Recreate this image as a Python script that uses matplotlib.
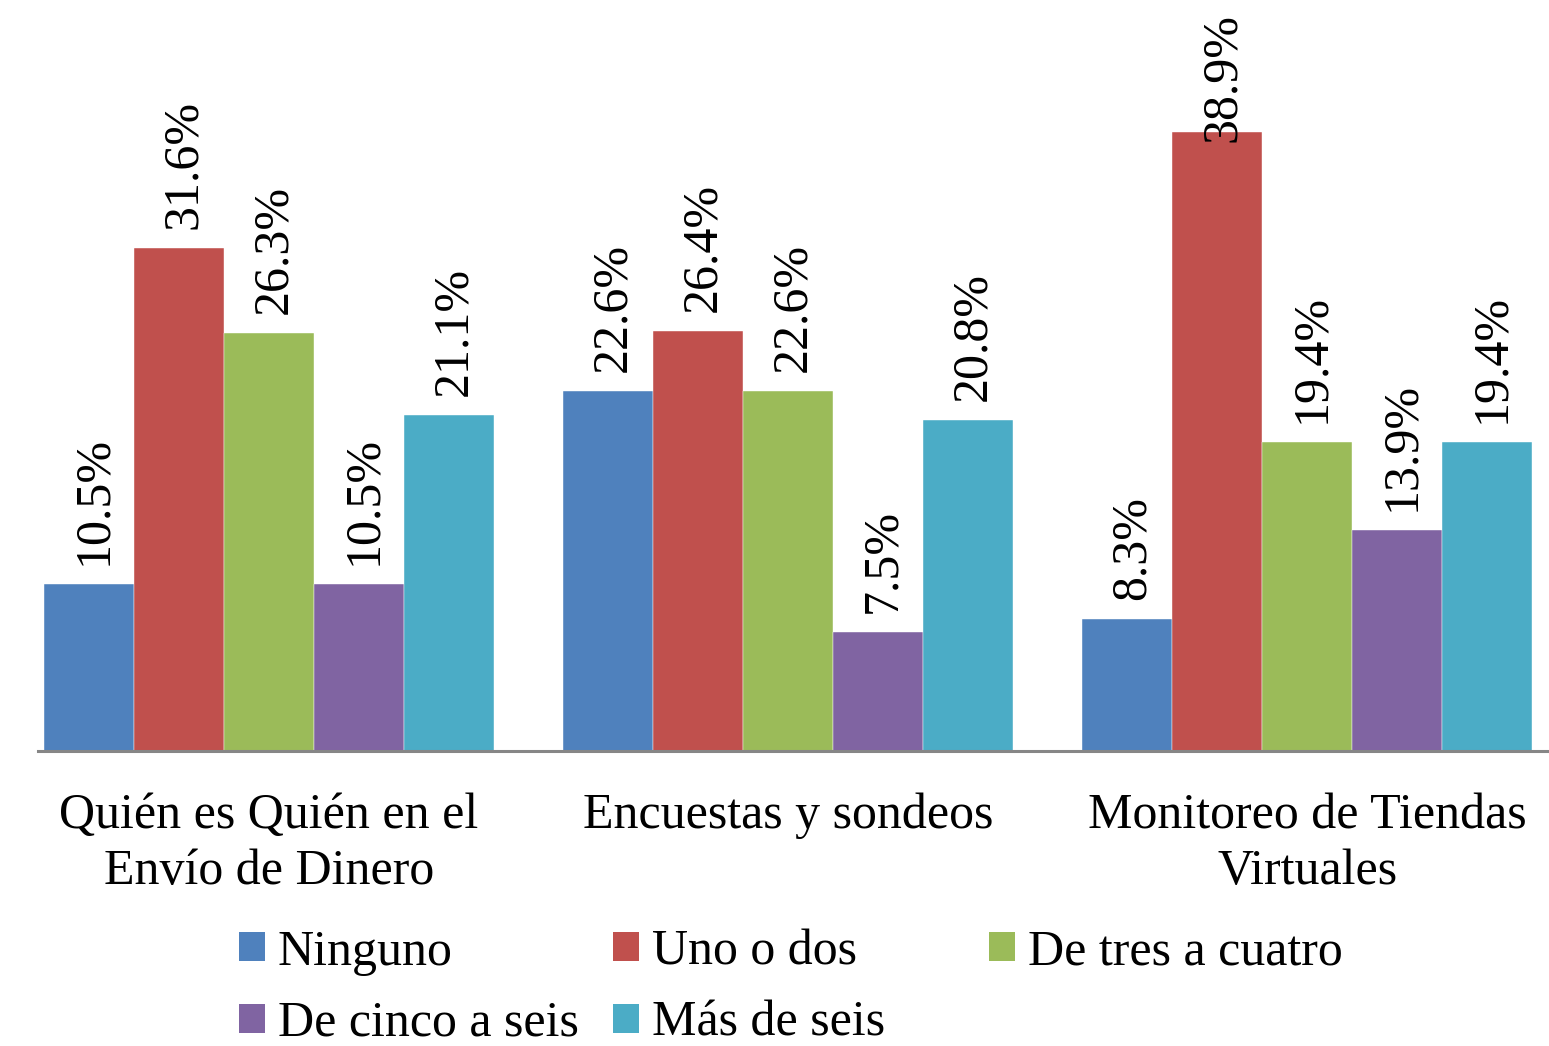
import matplotlib.pyplot as plt
from matplotlib.patches import Patch
import numpy as np

plt.rcParams["font.family"] = ["Liberation Serif", "DejaVu Serif"]

# Data
categories = ["Quién es Quién en el\nEnvío de Dinero", "Encuestas y sondeos",
              "Monitoreo de Tiendas\nVirtuales"]
series = ["Ninguno", "Uno o dos", "De tres a cuatro", "De cinco a seis", "Más de seis"]
ninguno = [10.5, 22.6, 8.3]
uno_dos = [31.6, 26.4, 38.9]
tres_cuatro = [26.3, 22.6, 19.4]
cinco_seis = [10.5, 7.5, 13.9]
mas_seis = [21.1, 20.8, 19.4]
values = [ninguno, uno_dos, tres_cuatro, cinco_seis, mas_seis]
colors = ["#4F81BD", "#C0504D", "#9BBB59", "#8064A2", "#4BACC6"]

W, H = 1549, 1046
fig = plt.figure(figsize=(W / 100, H / 100), dpi=100)
ax = fig.add_axes([38 / W, 1 - 751 / H, 1 - 38 / W, 751 / H])

x = np.arange(len(categories))
bw = 90 / 519
px = 15.91  # pixels per percent
ymax = 751 / px
for i, (vals, col) in enumerate(zip(values, colors)):
    pos = x + (i - 2) * bw
    ax.bar(pos, vals, width=bw, color=col, edgecolor="white", linewidth=0.3)
    for p, v in zip(pos, vals):
        # keep the label inside the plot area, like the original does
        ytext = min(v + 19 / px, (751 - 142) / px)
        ax.text(p + 0.01, ytext, f"{v:.1f}%", rotation=90, ha="center",
                va="bottom", fontsize=36)

ax.set_xlim(-0.445, 2.466)
ax.set_ylim(0, ymax)
for s in ["top", "right", "left"]:
    ax.spines[s].set_visible(False)
ax.spines["bottom"].set_color("#868686")
ax.spines["bottom"].set_linewidth(2.2)
ax.set_yticks([])
ax.set_xticks(x)
ax.set_xticklabels(categories, fontsize=36, linespacing=1.27)
ax.tick_params(axis="x", length=0, pad=30)

# legend, one column at a time to mimic equal column widths
col_x = [240, 614, 990]
cols = [[0, 3], [1, 4], [2]]
for cx, idx in zip(col_x, cols):
    handles = [Patch(facecolor=colors[k], label=series[k]) for k in idx]
    fig.legend(handles=handles, loc="upper left",
               bbox_to_anchor=((cx - 1) / W, 1 - 929 / H), frameon=False,
               fontsize=36, handlelength=0.52, handleheight=0.52,
               handletextpad=0.25, labelspacing=0.5, borderaxespad=0,
               borderpad=0)

fig.savefig("out.png", dpi=100)
